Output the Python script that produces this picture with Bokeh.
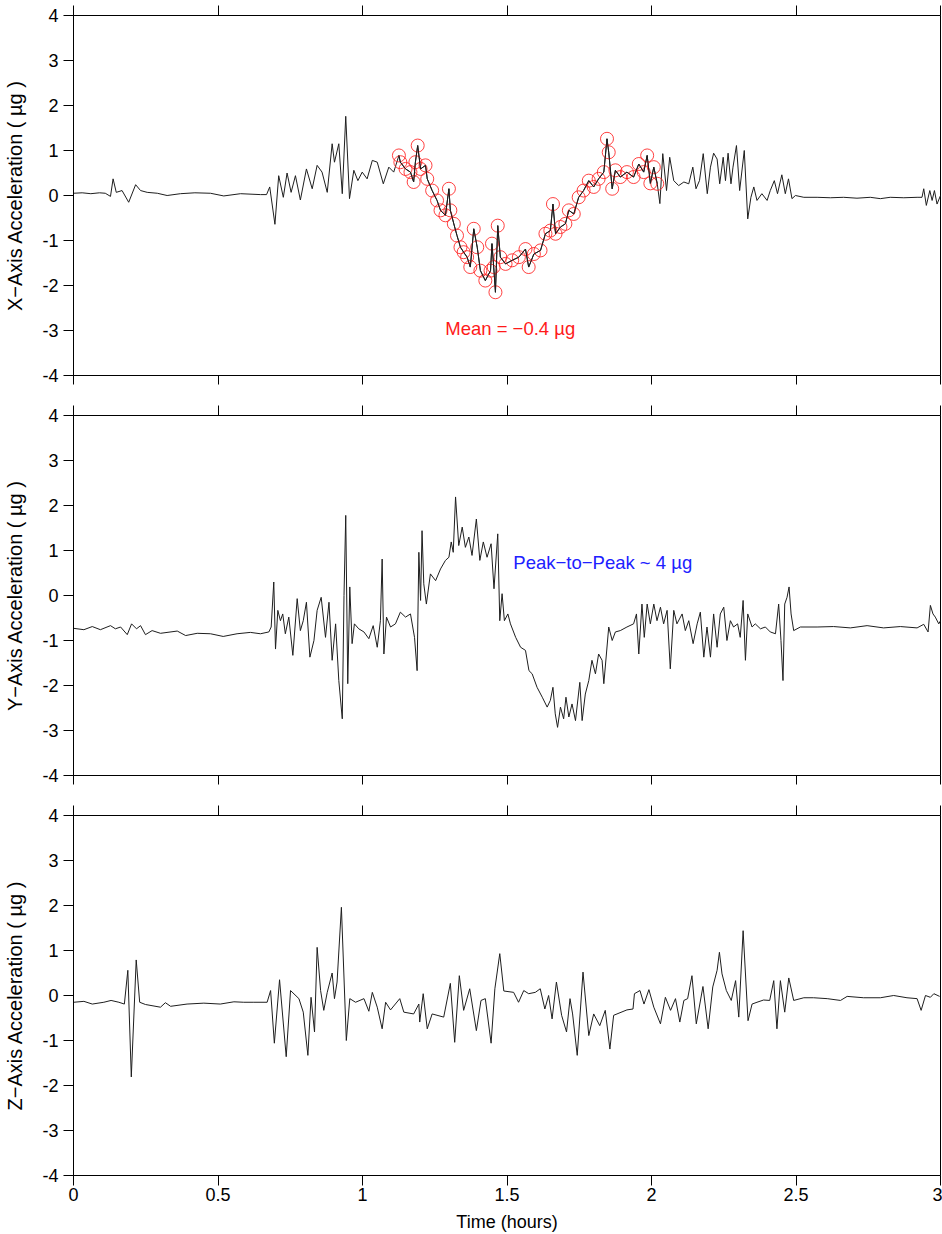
from bokeh.plotting import figure
from bokeh.layouts import column
from bokeh.models import FixedTicker, LinearAxis, Label
from bokeh.embed import file_html
from bokeh.resources import INLINE

# ---------------- data ----------------
x_ticks = [0, 0.5, 1, 1.5, 2, 2.5, 3]
x_tick_labels = ["0", "0.5", "1", "1.5", "2", "2.5", "3"]
y_ticks = [-4, -3, -2, -1, 0, 1, 2, 3, 4]
y_tick_labels = ["-4", "-3", "-2", "-1", "0", "1", "2", "3", "4"]

title_text = "Start GMT 02-August-2012, 215/05:05:32.406"
x_label = "Time (hours)"
panel_labels = ["X\u2212Axis Acceleration ( \u00b5g )",
                "Y\u2212Axis Acceleration ( \u00b5g )",
                "Z\u2212Axis Acceleration ( \u00b5g )"]
mean_text = "Mean =  \u22120.4 \u00b5g"
p2p_text = "Peak\u2212to\u2212Peak ~ 4 \u00b5g"

# window of samples used for the mean (red circles)
mean_window = (1.11, 2.022)

x_time = [0.000, 0.030, 0.060, 0.090, 0.110, 0.128, 0.137, 0.148, 0.168, 0.191,
          0.215, 0.232, 0.255, 0.290, 0.324, 0.370, 0.420, 0.474, 0.520, 0.578,
          0.647, 0.668, 0.679, 0.697, 0.710, 0.726, 0.739, 0.753, 0.768, 0.785,
          0.806, 0.826, 0.843, 0.860, 0.878, 0.895, 0.903, 0.918, 0.930, 0.942,
          0.955, 0.970, 0.984, 0.999, 1.016, 1.034, 1.051, 1.072, 1.091, 1.108,
          1.126, 1.131, 1.149, 1.166, 1.177, 1.183, 1.191, 1.201, 1.218, 1.224,
          1.241, 1.258, 1.270, 1.287, 1.299, 1.304, 1.316, 1.327, 1.339, 1.350,
          1.362, 1.373, 1.385, 1.397, 1.408, 1.425, 1.443, 1.448, 1.454, 1.460,
          1.468, 1.477, 1.495, 1.518, 1.541, 1.564, 1.575, 1.593, 1.616, 1.633,
          1.650, 1.659, 1.668, 1.685, 1.702, 1.714, 1.731, 1.748, 1.765, 1.783,
          1.800, 1.817, 1.835, 1.846, 1.852, 1.864, 1.875, 1.892, 1.915, 1.938,
          1.956, 1.973, 1.985, 1.996, 2.008, 2.020, 2.029, 2.039, 2.052, 2.063,
          2.077, 2.094, 2.112, 2.129, 2.143, 2.154, 2.166, 2.179, 2.193, 2.204,
          2.215, 2.227, 2.236, 2.248, 2.256, 2.265, 2.275, 2.282, 2.294, 2.305,
          2.321, 2.333, 2.344, 2.354, 2.365, 2.382, 2.400, 2.411, 2.425, 2.436,
          2.451, 2.463, 2.474, 2.486, 2.498, 2.527, 2.573, 2.619, 2.665, 2.711,
          2.757, 2.792, 2.826, 2.873, 2.919, 2.936, 2.942, 2.951, 2.963, 2.971,
          2.979, 2.988, 3.000]
x_accel = [0.05, 0.06, 0.04, 0.06, 0.05, -0.02, 0.37, 0.07, 0.11, -0.15,
           0.24, 0.11, 0.07, 0.05, 0.00, 0.04, 0.06, 0.05, -0.01, 0.04,
           0.02, 0.02, 0.19, -0.64, 0.44, -0.04, 0.50, 0.07, 0.44, -0.10,
           0.59, 0.15, 0.67, 0.52, 0.07, 1.15, 0.74, 1.15, 0.04, 1.76,
           -0.07, 0.56, 0.33, 0.52, 0.37, 0.78, 0.74, 0.26, 0.63, 0.52,
           0.89, 0.74, 0.59, 0.52, 0.30, 0.74, 1.11, 0.59, 0.67, 0.37,
           0.11, -0.11, -0.33, -0.44, 0.15, -0.33, -0.63, -0.89, -1.15, -1.26,
           -1.37, -1.59, -0.74, -1.15, -1.67, -1.89, -1.67, -1.07, -1.59, -2.15,
           -0.67, -1.37, -1.52, -1.44, -1.37, -1.19, -1.59, -1.30, -1.22, -0.85,
           -0.78, -0.19, -0.85, -0.70, -0.63, -0.33, -0.41, -0.04, 0.11, 0.33,
           0.19, 0.37, 0.52, 1.26, 0.96, 0.15, 0.56, 0.41, 0.52, 0.41,
           0.70, 0.52, 0.89, 0.27, 0.63, 0.26, -0.18, 0.93, 0.11, 0.85,
           0.33, 0.22, 0.30, 0.26, 0.63, 0.15, 0.33, 0.93, 0.04, 0.63,
           0.94, 0.81, 0.26, 0.85, 0.33, 0.94, 0.26, 0.63, 1.11, 0.11,
           1.00, -0.52, -0.04, 0.19, -0.11, 0.04, -0.11, 0.11, 0.33, 0.04,
           0.46, 0.04, 0.37, -0.07, 0.00, -0.04, -0.04, -0.05, -0.04, -0.06,
           -0.04, -0.07, -0.04, -0.05, -0.04, -0.04, 0.15, -0.22, 0.11, -0.11,
           0.11, -0.19, 0.00]

y_time = [0.001, 0.036, 0.065, 0.093, 0.128, 0.145, 0.163, 0.186, 0.201, 0.218,
          0.232, 0.249, 0.272, 0.301, 0.359, 0.388, 0.428, 0.474, 0.518, 0.566,
          0.612, 0.647, 0.676, 0.684, 0.693, 0.699, 0.707, 0.716, 0.724, 0.733,
          0.745, 0.759, 0.774, 0.785, 0.795, 0.806, 0.818, 0.832, 0.843, 0.857,
          0.872, 0.884, 0.895, 0.907, 0.918, 0.930, 0.936, 0.942, 0.949, 0.956,
          0.964, 0.972, 0.987, 1.005, 1.022, 1.037, 1.051, 1.062, 1.068, 1.074,
          1.083, 1.097, 1.114, 1.131, 1.149, 1.166, 1.180, 1.189, 1.195, 1.201,
          1.206, 1.212, 1.221, 1.235, 1.253, 1.270, 1.287, 1.299, 1.307, 1.314,
          1.322, 1.333, 1.345, 1.356, 1.368, 1.379, 1.394, 1.406, 1.418, 1.431,
          1.445, 1.455, 1.468, 1.475, 1.483, 1.491, 1.503, 1.512, 1.530, 1.547,
          1.564, 1.576, 1.587, 1.604, 1.622, 1.639, 1.650, 1.659, 1.667, 1.675,
          1.685, 1.696, 1.704, 1.714, 1.725, 1.737, 1.752, 1.760, 1.771, 1.783,
          1.794, 1.806, 1.817, 1.829, 1.835, 1.844, 1.852, 1.864, 1.875, 1.892,
          1.915, 1.938, 1.948, 1.956, 1.967, 1.975, 1.985, 1.996, 2.008, 2.019,
          2.031, 2.042, 2.054, 2.065, 2.077, 2.088, 2.106, 2.117, 2.129, 2.144,
          2.158, 2.169, 2.181, 2.192, 2.204, 2.215, 2.227, 2.238, 2.250, 2.261,
          2.273, 2.284, 2.298, 2.307, 2.317, 2.325, 2.333, 2.348, 2.359, 2.377,
          2.394, 2.411, 2.429, 2.440, 2.448, 2.455, 2.461, 2.469, 2.476, 2.483,
          2.492, 2.515, 2.573, 2.630, 2.688, 2.746, 2.803, 2.861, 2.919, 2.942,
          2.957, 2.965, 2.974, 2.982, 2.994, 3.000]
y_accel = [-0.73, -0.76, -0.69, -0.76, -0.67, -0.74, -0.70, -0.87, -0.63, -0.74,
           -0.67, -0.87, -0.78, -0.84, -0.79, -0.89, -0.84, -0.85, -0.91, -0.85,
           -0.82, -0.85, -0.81, -0.70, 0.30, -1.19, -0.33, -0.56, -0.41, -0.85,
           -0.48, -1.33, -0.07, -0.78, -0.56, -0.15, -1.37, -1.00, -0.33, -0.04,
           -0.93, -0.15, -1.44, -0.63, -1.89, -2.74, 0.00, 1.78, -1.96, 0.19,
           -1.07, -0.63, -0.74, -0.81, -0.96, -0.67, -1.15, -0.56, 0.81, -1.30,
           -0.48, -0.70, -0.63, -0.37, -0.48, -0.41, -0.93, -1.67, 0.96, -0.11,
           1.44, 0.26, -0.19, 0.48, 0.33, 0.59, 0.78, 0.85, 1.19, 0.96,
           2.19, 1.11, 1.52, 1.07, 1.30, 0.89, 1.70, 0.78, 1.19, 0.85,
           1.15, 0.15, 1.37, -0.56, 0.04, -0.56, -0.41, -0.63, -0.93, -1.15,
           -1.22, -1.67, -1.74, -2.04, -2.26, -2.48, -2.33, -2.04, -2.63, -2.93,
           -2.48, -2.74, -2.26, -2.70, -2.41, -2.78, -1.93, -2.78, -2.19, -1.89,
           -1.44, -1.74, -1.30, -1.44, -1.96, -1.30, -0.70, -1.00, -0.81, -0.78,
           -0.70, -0.63, -0.41, -1.30, -0.19, -0.93, -0.19, -0.63, -0.19, -0.56,
           -0.26, -0.63, -0.33, -1.63, -0.33, -0.63, -0.41, -0.78, -0.56, -1.07,
           -0.63, -0.37, -1.37, -0.70, -1.37, -0.41, -1.15, -0.41, -0.26, -1.00,
           -0.56, -0.70, -0.63, -0.93, -0.11, -1.44, -0.41, -0.70, -0.63, -0.74,
           -0.70, -0.81, -0.85, -0.19, -1.00, -1.89, -0.19, -0.04, 0.19, -0.41,
           -0.78, -0.70, -0.70, -0.69, -0.72, -0.67, -0.72, -0.69, -0.72, -0.64,
           -0.81, -0.22, -0.41, -0.48, -0.63, -0.56]

z_time = [0.001, 0.036, 0.065, 0.105, 0.130, 0.157, 0.176, 0.188, 0.200, 0.217,
          0.229, 0.249, 0.301, 0.318, 0.336, 0.393, 0.451, 0.508, 0.555, 0.589,
          0.624, 0.670, 0.682, 0.695, 0.713, 0.736, 0.751, 0.780, 0.795, 0.811,
          0.822, 0.834, 0.843, 0.855, 0.866, 0.878, 0.895, 0.903, 0.912, 0.927,
          0.944, 0.956, 0.976, 1.005, 1.022, 1.034, 1.051, 1.068, 1.080, 1.097,
          1.129, 1.143, 1.177, 1.195, 1.198, 1.210, 1.224, 1.241, 1.281, 1.304,
          1.319, 1.335, 1.350, 1.371, 1.394, 1.410, 1.425, 1.445, 1.458, 1.475,
          1.489, 1.523, 1.540, 1.558, 1.575, 1.598, 1.615, 1.631, 1.644, 1.656,
          1.671, 1.689, 1.706, 1.718, 1.727, 1.743, 1.763, 1.783, 1.800, 1.821,
          1.840, 1.856, 1.869, 1.915, 1.936, 1.941, 1.960, 1.974, 1.991, 2.008,
          2.031, 2.048, 2.066, 2.083, 2.098, 2.112, 2.125, 2.140, 2.155, 2.178,
          2.196, 2.212, 2.227, 2.235, 2.244, 2.259, 2.276, 2.291, 2.302, 2.317,
          2.334, 2.348, 2.365, 2.388, 2.409, 2.423, 2.434, 2.446, 2.461, 2.475,
          2.492, 2.527, 2.561, 2.608, 2.654, 2.677, 2.734, 2.792, 2.838, 2.884,
          2.919, 2.933, 2.948, 2.965, 2.977, 2.997]
z_accel = [-0.15, -0.13, -0.19, -0.15, -0.11, -0.15, -0.19, 0.56, -1.81, 0.79,
           -0.15, -0.20, -0.26, -0.16, -0.24, -0.19, -0.17, -0.19, -0.14, -0.15,
           -0.15, -0.15, 0.11, -1.06, 0.35, -1.36, 0.11, -0.07, -0.37, -1.33,
           -0.04, -0.81, 1.07, 0.11, -0.33, 0.07, 0.50, -0.07, 0.30, 1.96,
           -1.00, -0.07, -0.15, -0.07, -0.35, 0.07, -0.26, -0.74, -0.15, -0.32,
           -0.07, -0.37, -0.41, -0.19, -0.59, 0.04, -0.74, -0.41, -0.48, 0.27,
           -1.04, 0.44, -0.33, 0.15, -0.78, -0.11, -0.07, -1.06, 0.15, 0.93,
           0.10, 0.07, -0.15, 0.11, 0.04, 0.07, 0.15, -0.30, 0.00, -0.52,
           0.30, -0.44, -0.81, -0.07, -0.41, -1.33, 0.52, -0.89, -0.41, -0.67,
           -0.33, -1.19, -0.44, -0.32, -0.30, 0.04, 0.11, -0.19, 0.13, -0.26,
           -0.63, -0.04, -0.33, -0.07, -0.59, -0.11, -0.07, 0.44, -0.63, 0.20,
           -0.74, 0.19, 0.56, 0.96, 0.48, 0.11, -0.11, 0.33, -0.48, 1.44,
           -0.56, -0.19, -0.15, -0.10, -0.11, 0.33, -0.74, 0.33, -0.37, 0.39,
           -0.11, -0.05, -0.05, -0.07, -0.11, -0.02, -0.05, -0.05, 0.00, -0.05,
           -0.07, -0.33, 0.00, -0.04, 0.04, -0.02]

# ---------------- styling ----------------
FONT = "Liberation Sans"
TICK_FS = "18px"
LINE_COLOR = "#1e1e1e"
FIG_W = 942


def hide_labels(ax):
    ax.major_label_text_font_size = "1px"
    ax.major_label_text_color = None
    ax.major_label_standoff = 0


def make_panel(time, accel, ylabel, height, top, bottom, show_x_labels):
    p = figure(width=FIG_W, height=height, x_range=(0, 3), y_range=(-4, 4),
               output_backend="svg", toolbar_location=None,
               min_border_left=73, min_border_right=2,
               min_border_top=top, min_border_bottom=bottom)
    p.background_fill_color = "white"
    p.border_fill_color = "white"
    p.grid.visible = False
    p.outline_line_color = "black"
    p.outline_line_width = 1

    xov = {float(t): s for t, s in zip(x_ticks, x_tick_labels)}
    yov = {float(t): s for t, s in zip(y_ticks, y_tick_labels)}

    xa = p.xaxis[0]
    xa.ticker = FixedTicker(ticks=x_ticks)
    xa.major_label_overrides = xov
    xa.minor_tick_line_color = None
    xa.major_tick_in = 0
    xa.major_tick_out = 10
    xa.axis_line_color = "black"
    xa.major_tick_line_color = "black"
    if show_x_labels:
        xa.major_label_text_font = FONT
        xa.major_label_text_font_size = TICK_FS
        xa.major_label_text_color = "black"
        xa.major_label_standoff = 2
        xa.axis_label = x_label
        xa.axis_label_text_font = FONT
        xa.axis_label_text_font_size = "18px"
        xa.axis_label_text_font_style = "normal"
        xa.axis_label_text_color = "black"
        xa.axis_label_standoff = 8
    else:
        hide_labels(xa)
        xa.major_tick_out = 9

    ya = p.yaxis[0]
    ya.ticker = FixedTicker(ticks=y_ticks)
    ya.major_label_overrides = yov
    ya.minor_tick_line_color = None
    ya.major_tick_in = 0
    ya.major_tick_out = 10
    ya.axis_line_color = "black"
    ya.major_tick_line_color = "black"
    ya.major_label_text_font = FONT
    ya.major_label_text_font_size = TICK_FS
    ya.major_label_text_color = "black"
    ya.major_label_standoff = 5
    ya.axis_label = ylabel
    ya.axis_label_text_font = FONT
    ya.axis_label_text_font_size = "20px"
    ya.axis_label_text_font_style = "normal"
    ya.axis_label_text_color = "black"
    ya.axis_label_standoff = 13

    top_ax = LinearAxis(ticker=FixedTicker(ticks=x_ticks),
                        major_tick_in=0, major_tick_out=10,
                        minor_tick_line_color=None, axis_line_color="black",
                        major_tick_line_color="black")
    hide_labels(top_ax)
    p.add_layout(top_ax, "above")

    p.line(time, accel, line_color=LINE_COLOR, line_width=1)
    return p


p1 = make_panel(x_time, x_accel, panel_labels[0], 395, 15, 20, False)
p2 = make_panel(y_time, y_accel, panel_labels[1], 400, 20, 20, False)
p3 = make_panel(z_time, z_accel, panel_labels[2], 439, 20, 59, True)

# red circles on the samples used for the mean
sel_t = [t for t in x_time if mean_window[0] <= t <= mean_window[1]]
sel_v = [v for t, v in zip(x_time, x_accel) if mean_window[0] <= t <= mean_window[1]]
p1.scatter(sel_t, sel_v, marker="circle", size=13, fill_color=None,
           line_color="#ff2020", line_width=1, line_alpha=0.85)
p1.line(sel_t, sel_v, line_color=LINE_COLOR, line_width=1)

p1.add_layout(Label(x=1.52, y=-2.95, text=mean_text, text_color="#ff1a1a",
                    text_font=FONT, text_font_size="18.5px",
                    text_align="center", text_baseline="middle"))
p2.add_layout(Label(x=1.522, y=0.73, text=p2p_text, text_color="#2020ff",
                    text_font=FONT, text_font_size="18.5px",
                    text_align="left", text_baseline="middle"))
# title: lies above the top edge of the picture, as in the reference
p1.add_layout(Label(x=1.5, y=4, y_offset=11, text=title_text, text_color="black",
                    text_font=FONT, text_font_size="18.5px",
                    text_align="center", text_baseline="alphabetic"))

layout = column(p1, p2, p3, spacing=0)
open("out.html", "w").write(file_html(layout, INLINE))
